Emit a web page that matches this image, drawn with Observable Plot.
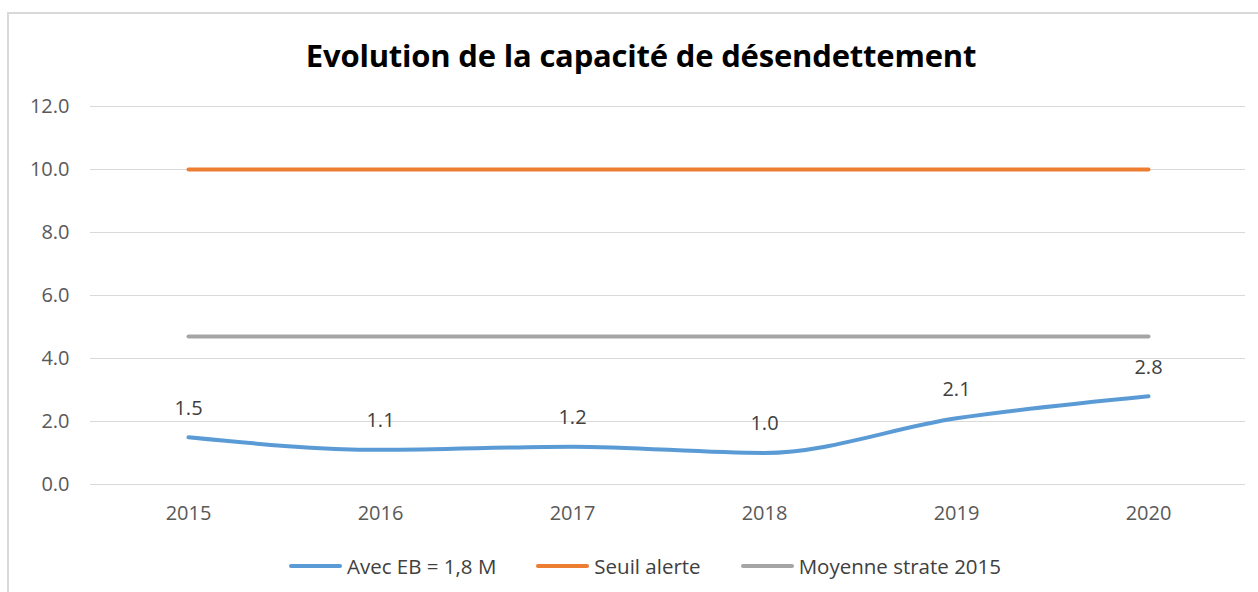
<!DOCTYPE html>
<html>
<head>
<meta charset="utf-8">
<script src="https://cdn.jsdelivr.net/npm/d3@7"></script>
<script src="https://cdn.jsdelivr.net/npm/@observablehq/plot@0.6"></script>
<style>
  html, body { margin: 0; padding: 0; background: #fff; }
  body { width: 1258px; height: 592px; overflow: hidden; position: relative; font-family: "Open Sans", Lato, sans-serif; }
  #frame { position: absolute; left: 7px; top: 12px; width: 1260px; height: 600px; border-top: 2px solid #d9d9d9; border-left: 2px solid #d9d9d9; box-sizing: border-box; }
  #title { height: 90px; line-height: 110px; text-align: center; font-weight: bold; font-size: 31px; color: #000; position: relative; letter-spacing: -0.2px; padding-left: 24px; }
  #chart { position: relative; height: 450px; }
  #legend { position: relative; height: 52px; display: flex; align-items: center; justify-content: center; padding-left: 32px; font-size: 20.5px; color: #404040; }
  .item { display: flex; align-items: center; margin: 0 20px; }
  .sw { width: 53px; height: 4px; border-radius: 2px; margin-right: 5px; }
</style>
</head>
<body>
<div id="frame"></div>
<div id="title">Evolution de la capacité de désendettement</div>
<div id="chart"></div>
<div id="legend"></div>
<script>
const years = ["2015", "2016", "2017", "2018", "2019", "2020"];
const avecEB = [1.5, 1.1, 1.2, 1.0, 2.1, 2.8];
const seuilAlerte = [10, 10, 10, 10, 10, 10];
const moyenneStrate = [4.7, 4.7, 4.7, 4.7, 4.7, 4.7];
const yTicks = [0, 2, 4, 6, 8, 10, 12];
const seriesNames = ["Avec EB = 1,8 M", "Seuil alerte", "Moyenne strate 2015"];
const seriesColors = ["#5B9BD5", "#ED7D31", "#A5A5A5"];

const rows = (vals, name) => years.map((y, i) => ({year: y, value: vals[i], series: name}));
const blue = rows(avecEB, seriesNames[0]);
const orange = rows(seuilAlerte, seriesNames[1]);
const gray = rows(moyenneStrate, seriesNames[2]);

const fmt = d3.format(".1f");

const plot = Plot.plot({
  width: 1258,
  height: 450,
  marginTop: 16,
  marginBottom: 56,
  marginLeft: 90,
  marginRight: 13,
  style: {fontFamily: "'Open Sans', Lato, sans-serif", fontSize: "20px", background: "transparent"},
  x: {type: "point", domain: years, padding: 0.5, label: null},
  y: {domain: [0, 12], ticks: yTicks, label: null},
  marks: [
    Plot.ruleY(yTicks, {stroke: "#d9d9d9", strokeWidth: 1}),
    Plot.axisY({ticks: yTicks, tickFormat: fmt, tickSize: 0, tickPadding: 21, fill: "#595959", fontSize: 20, label: null}),
    Plot.axisX({tickSize: 0, tickPadding: 21, fill: "#595959", fontSize: 20, label: null}),
    Plot.line(orange, {x: "year", y: "value", stroke: seriesColors[1], strokeWidth: 4, strokeLinecap: "round"}),
    Plot.line(gray, {x: "year", y: "value", stroke: seriesColors[2], strokeWidth: 4, strokeLinecap: "round"}),
    Plot.line(blue, {x: "year", y: "value", stroke: seriesColors[0], strokeWidth: 4, strokeLinecap: "round", curve: "monotone-x"}),
    Plot.text(blue, {x: "year", y: "value", text: d => fmt(d.value), dy: -29, fill: "#404040", fontSize: 20})
  ]
});
document.getElementById("chart").appendChild(plot);

const legend = document.getElementById("legend");
seriesNames.forEach((name, i) => {
  const item = document.createElement("div");
  item.className = "item";
  const sw = document.createElement("div");
  sw.className = "sw";
  sw.style.background = seriesColors[i];
  const label = document.createElement("span");
  label.textContent = name;
  item.appendChild(sw);
  item.appendChild(label);
  legend.appendChild(item);
});
</script>
</body>
</html>
